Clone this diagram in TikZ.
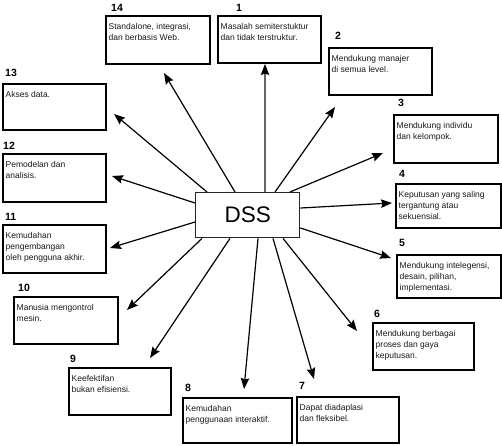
\documentclass[tikz,border=0pt]{standalone}
\usepackage{fontspec}
\setmainfont{Liberation Sans}
\usetikzlibrary{arrows.meta,calc}
\tikzset{
  box/.style={draw=black, line width=1.5pt, inner sep=0pt, anchor=north west},
  txt/.style={anchor=north west, inner sep=0pt, align=left, font=\fontsize{8.5}{10.8}\selectfont, text=black!90},
  num/.style={anchor=base west, inner sep=0pt, font=\fontsize{10.5}{12}\selectfont\bfseries},
  arr/.style={line width=1.2pt, -{Stealth[length=11pt,width=8.5pt,inset=1.5pt]}},
}
\newcommand{\bx}[7]{%
  \node[box, minimum width=#4-#2, minimum height=#5-#3] (b#1) at (#2,#3) {};
  \node[txt] (b#1t) at (#2+3.5,#3+8.5) {#6};
  \node[num] (b#1n) at #7 {#1};
}
\begin{document}
\begin{tikzpicture}[x=1pt,y=-1pt]
\useasboundingbox (0,0) rectangle (502,445);
\fill[white] (0,0) rectangle (502,445);

\bx{1}{217}{15}{320}{62}{Masalah semiterstuktur\\dan tidak terstruktur.}{(236,11)}
\bx{2}{328}{47}{431}{94}{Mendukung manajer\\di semua level.}{(335,39)}
\bx{3}{393}{114}{497}{162}{Mendukung individu\\dan kelompok.}{(398,106)}
\bx{4}{395}{183}{500}{227}{Keputusan yang saling\\tergantung atau\\sekuensial.}{(399,177)}
\bx{5}{396}{254}{500}{297}{Mendukung intelegensi,\\desain, pilihan,\\implementasi.}{(399,246)}
\bx{6}{372}{322}{473}{369}{Mendukung berbagai\\proses dan gaya\\keputusan.}{(374,317)}
\bx{7}{296}{396}{398}{442}{Dapat diadaplasi\\dan fleksibel.}{(299,389)}
\bx{8}{182}{397}{291}{442}{Kemudahan\\penggunaan interaktif.}{(185,391)}
\bx{9}{68}{367}{170}{414}{Keefektifan\\bukan efisiensi.}{(70,362)}
\bx{10}{13}{296}{117}{343}{Manusia mengontrol\\mesin.}{(18,291)}
\bx{11}{2}{224}{105}{272}{Kemudahan\\pengembangan\\oleh pengguna akhir.}{(5,220)}
\bx{12}{2}{153}{105}{201}{Pemodelan dan\\analisis.}{(3,149)}
\bx{13}{2}{83}{105}{129}{Akses data.}{(5,76)}
\bx{14}{105}{15}{209}{63}{Standalone, integrasi,\\dan berbasis Web.}{(111,11)}

\node[draw=black!85, line width=1.4pt, minimum width=104pt, minimum height=45pt, anchor=north west,
      font=\fontsize{22.5}{26}\selectfont] (dss) at (195,192) {DSS};

\coordinate (t1) at (265,64);
\coordinate (t2) at (335,107);
\coordinate (t3) at (383,153);
\coordinate (t4) at (392,203);
\coordinate (t5) at (391,258);
\coordinate (t6) at (357,331);
\coordinate (t7) at (314,379);
\coordinate (t8) at (244,389);
\coordinate (t9) at (150,358);
\coordinate (t10) at (127,310);
\coordinate (t11) at (110,248);
\coordinate (t12) at (112,176);
\coordinate (t13) at (114,114);
\coordinate (t14) at (164,73);

\draw[arr] ($(dss.north west)+(70,0)$) -- (t1);
\draw[draw=black!60, line width=1.5pt, shorten >=10pt] ($(dss.north west)+(70,0)$) -- (t1);
\draw[arr] ($(dss.north west)+(80,0)$) -- (t2);
\draw[arr] ($(dss.north west)+(95,0)$) -- (t3);
\draw[arr] ($(dss.north east)+(0,16)$) -- (t4);
\draw[arr] ($(dss.north east)+(0,36)$) -- (t5);
\draw[arr] ($(dss.south west)+(88,0)$) -- (t6);
\draw[arr] ($(dss.south west)+(78,0)$) -- (t7);
\draw[arr] ($(dss.south west)+(63,0)$) -- (t8);
\draw[arr] ($(dss.south west)+(35,0)$) -- (t9);
\draw[arr] ($(dss.south west)+(7,0)$) -- (t10);
\draw[arr] ($(dss.north west)+(0,30)$) -- (t11);
\draw[arr] ($(dss.north west)+(0,11)$) -- (t12);
\draw[arr] ($(dss.north west)+(12,0)$) -- (t13);
\draw[arr] ($(dss.north west)+(40,0)$) -- (t14);
\end{tikzpicture}
\end{document}
